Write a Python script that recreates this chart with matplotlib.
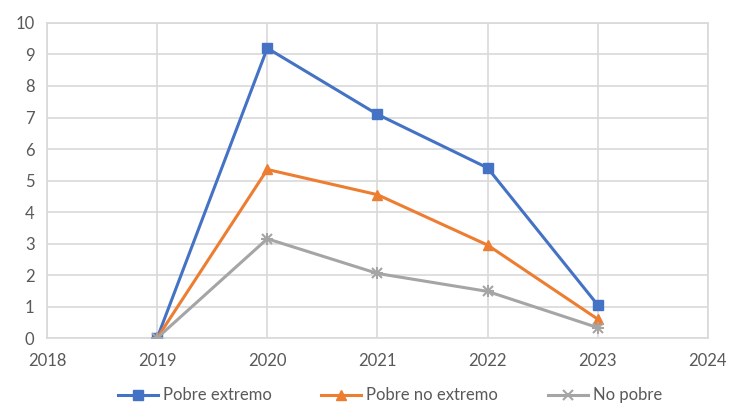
import matplotlib.pyplot as plt

# Datos
years = [2019, 2020, 2021, 2022, 2023]
pobre_extremo = [0, 9.2, 7.1, 5.4, 1.05]
pobre_no_extremo = [0, 5.35, 4.55, 2.95, 0.6]
no_pobre = [0, 3.15, 2.05, 1.48, 0.33]

plt.rcParams["font.family"] = ["Lato", "DejaVu Sans"]
text_color = "#595959"
grid_color = "#D9D9D9"

fig = plt.figure(figsize=(7.29, 4.07), dpi=100)
ax = fig.add_axes([0.0645, 0.1695, 0.9065, 0.774])

ax.plot(years, pobre_extremo, color="#4472C4", lw=2.2, marker="s", ms=7,
        label="Pobre extremo", zorder=3)
ax.plot(years, pobre_no_extremo, color="#ED7D31", lw=2.2, marker="^", ms=7.5,
        label="Pobre no extremo", zorder=3)
ax.plot(years, no_pobre, color="#A5A5A5", lw=2.2, marker="x", ms=7, mew=1.5,
        label="No pobre", zorder=3)
ax.plot(years, no_pobre, color="#A5A5A5", lw=0, marker="+", ms=8, mew=1.5,
        zorder=3)

ax.set_xlim(2018, 2024)
ax.set_ylim(0, 10)
ax.set_xticks(range(2018, 2025))
ax.set_yticks(range(0, 11))
ax.grid(True, color=grid_color, lw=1.2)
ax.set_axisbelow(True)
for s in ax.spines.values():
    s.set_color(grid_color)
    s.set_linewidth(1.2)
ax.tick_params(length=0, colors=text_color, labelsize=12)
ax.tick_params(axis="x", pad=11)
ax.tick_params(axis="y", pad=9)

h, l = ax.get_legend_handles_labels()
fig.legend(h, l, loc="lower center", bbox_to_anchor=(0.535, -0.028), ncol=3,
           frameon=False, fontsize=12, handlelength=2.4, columnspacing=3.0,
           handletextpad=0.3, labelcolor=text_color)

fig.savefig("out.png", dpi=100)
